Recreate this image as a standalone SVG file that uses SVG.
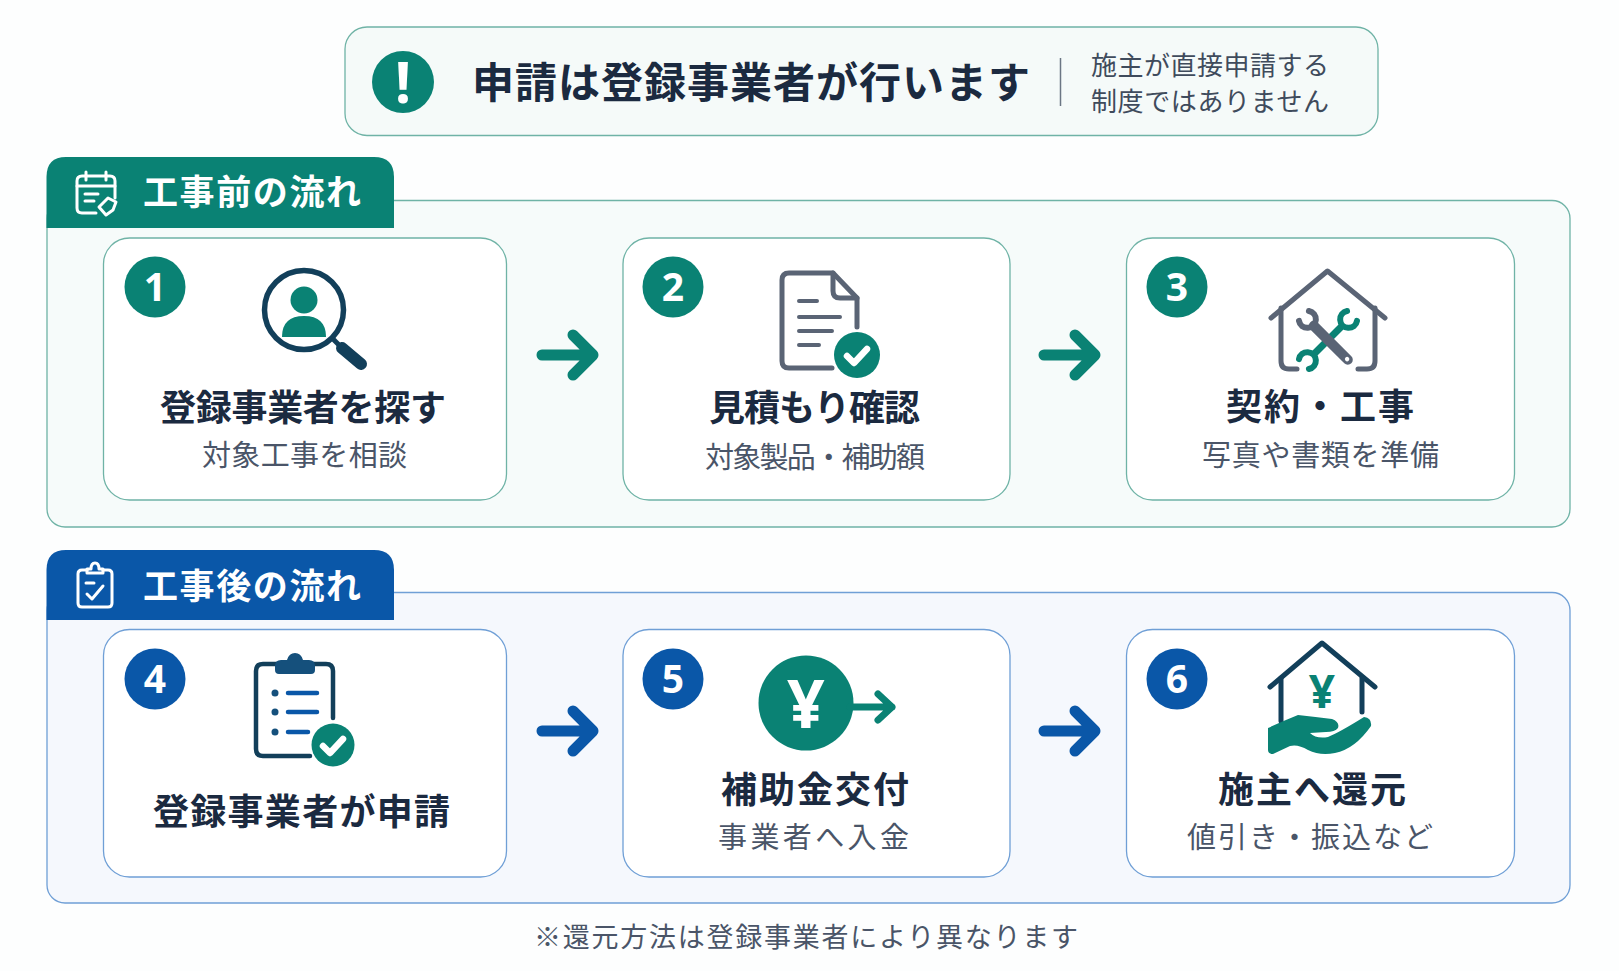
<svg xmlns="http://www.w3.org/2000/svg" width="1619" height="971" viewBox="0 0 1619 971">
<style>
text{font-family:"Noto Sans CJK JP","Noto Sans",sans-serif}
.t{font-size:36px;font-weight:700;fill:#1b2a40}
.s{font-size:29px;font-weight:400;fill:#4a5568}
.h{font-size:35px;font-weight:700;fill:#fff}
.n{font-size:39px;font-weight:700;fill:#fff;text-anchor:middle;font-family:"Noto Sans",sans-serif}
.ct{fill:#fff;stroke:#6fb3a6;stroke-width:1.3}
.cb{fill:#fff;stroke:#6f9fd6;stroke-width:1.3}
.ar{fill:none;stroke-width:11;stroke-linecap:round;stroke-linejoin:round}
.ln{fill:none;stroke-linecap:round;stroke-linejoin:round}
</style>
<defs>
<path id="check" d="M-10 1L-3 8L10 -6" fill="none" stroke="#fff" stroke-width="6.5" stroke-linecap="round" stroke-linejoin="round"/>
<path id="chev" d="M0 0H51M31 -20L51 0L31 20"/>
</defs>
<rect width="1619" height="971" fill="#fdfefe"/>

<g id="banner">
<rect x="345" y="27" width="1033" height="108.500" rx="22" fill="#f5faf9" stroke="#6fb3a6" stroke-width="1.3"/>
<circle cx="403" cy="82" r="31" fill="#0a8274"/>
<text x="403" y="103" font-size="57" font-weight="700" fill="#fff" text-anchor="middle" style="font-family:'Noto Sans',sans-serif">!</text>
<text x="472" y="98" font-size="42" font-weight="700" fill="#1b2a40" textLength="558">申請は登録事業者が行います</text>
<line x1="1060.500" y1="58" x2="1060.500" y2="106" stroke="#6b7684" stroke-width="1.5"/>
<text x="1091" y="75" font-size="26" fill="#3f4b5c" textLength="238">施主が直接申請する</text>
<text x="1091" y="111" font-size="26" fill="#3f4b5c" textLength="238">制度ではありません</text>
</g>

<g id="section-before">
<rect x="47" y="200.500" width="1523" height="326.500" rx="18" fill="#f6fbfa" stroke="#6fb3a6" stroke-width="1.3"/>
<path d="M46.500 228V177Q46.500 157 66 157H374Q394 157 394 177V228Z" fill="#0a8274"/>
<g fill="none" stroke="#fff" stroke-width="3" stroke-linecap="round" stroke-linejoin="round">
<path d="M96 213H82Q77 213 77 208V181Q77 176 82 176H110Q115 176 115 181V198"/>
<path d="M86 172V180M106 172V180M77 186H115M85 194H98M85 201H94"/>
<path d="M99 207L108 198L116 202L113 210L106 215Z"/>
</g>
<text class="h" x="143" y="205" textLength="218">工事前の流れ</text>
</g>

<g id="section-after">
<rect x="47" y="592.500" width="1523" height="310.500" rx="18" fill="#f5f8fd" stroke="#6f9fd6" stroke-width="1.3"/>
<path d="M46.500 620V570Q46.500 550 66 550H374Q394 550 394 570V620Z" fill="#0a57a8"/>
<g fill="none" stroke="#fff" stroke-width="3" stroke-linecap="round" stroke-linejoin="round">
<path d="M87 570H82Q78 570 78 574V603Q78 607 82 607H108Q112 607 112 603V574Q112 570 108 570H103"/>
<path d="M87 573V569H91Q91 563 95 563Q99 563 99 569H103V573Z"/>
<path d="M86 583H94M87 594L92 599L103 586"/>
</g>
<text class="h" x="143" y="599" textLength="218">工事後の流れ</text>
</g>

<g id="connectors">
<use href="#chev" class="ar" stroke="#0a8274" x="542" y="355"/>
<use href="#chev" class="ar" stroke="#0a8274" x="1044" y="355"/>
<use href="#chev" class="ar" stroke="#0a57a8" x="542" y="731"/>
<use href="#chev" class="ar" stroke="#0a57a8" x="1044" y="731"/>
</g>

<g id="node-1">
<rect class="ct" x="103.500" y="238" width="403" height="262" rx="26"/>
<circle cx="155" cy="287" r="30.500" fill="#0a8274"/><text class="n" x="155" y="301">1</text>
<circle cx="304" cy="310" r="39.500" fill="#fff" stroke="#123f5a" stroke-width="5.500"/>
<circle cx="304" cy="300" r="13.500" fill="#0a8274"/>
<path d="M282 337Q282 316 304 316Q326 316 326 337Z" fill="#0a8274"/>
<path class="ln" d="M334 340L338 344" stroke="#123f5a" stroke-width="5"/>
<path class="ln" d="M342 348L361 364" stroke="#123f5a" stroke-width="12"/>
<text class="t" x="160" y="421" textLength="286">登録事業者を探す</text>
<text class="s" x="202" y="466" textLength="205">対象工事を相談</text>
</g>

<g id="node-2">
<rect class="ct" x="623" y="238" width="387" height="262" rx="26"/>
<circle cx="673" cy="287" r="30.500" fill="#0a8274"/><text class="n" x="673" y="301">2</text>
<g class="ln" stroke="#5a6475" stroke-width="5">
<path d="M832 368H789Q782 368 782 361V280Q782 273 789 273H833L857 298V327"/>
<path d="M833 273V291Q833 298 840 298H857"/>
</g>
<g class="ln" stroke="#5a6475" stroke-width="4">
<path d="M799 301H817M799 317H840M799 331H832M799 345H819"/>
</g>
<circle cx="857" cy="355" r="23" fill="#0a8274"/><use href="#check" x="857" y="355"/>
<text class="t" x="709" y="421" textLength="211">見積もり確認</text>
<text class="s" x="705" y="467.500" textLength="220">対象製品・補助額</text>
</g>

<g id="node-3">
<rect class="ct" x="1126.500" y="238" width="388" height="262" rx="26"/>
<circle cx="1177" cy="287" r="30.500" fill="#0a8274"/><text class="n" x="1177" y="301">3</text>
<g class="ln" stroke="#5a6475" stroke-width="5">
<path d="M1271 318L1327.500 271L1385 318"/>
<path d="M1281 308V361Q1281 369 1289 369H1297M1375 308V361Q1375 369 1367 369H1358"/>
</g>
<g transform="translate(1328 340) rotate(45)" fill="none" stroke="#0a8274" stroke-linecap="round">
<path d="M0 -18V18" stroke-width="7"/>
<path d="M-7 -34A8.500 8.500 0 1 0 7 -34M-7 34A8.500 8.500 0 1 1 7 34" stroke-width="6"/>
</g>
<g transform="translate(1328 340) rotate(-45)" fill="none" stroke="#5a6475" stroke-linecap="round">
<path d="M0 -20V28" stroke-width="10"/>
<path d="M-7 -34A8.500 8.500 0 1 0 7 -34" stroke-width="6"/>
<circle cx="0" cy="27" r="2.200" fill="#fff" stroke="none"/>
</g>
<text class="t" x="1226" y="420" textLength="188">契約・工事</text>
<text class="s" x="1202" y="466" textLength="237">写真や書類を準備</text>
</g>

<g id="node-4">
<rect class="cb" x="103.500" y="629.500" width="403" height="247.500" rx="26"/>
<circle cx="155" cy="679" r="30.500" fill="#0a57a8"/><text class="n" x="155" y="693">4</text>
<path class="ln" d="M310 756H263Q256 756 256 749V671Q256 664 263 664H326Q333 664 333 671V718" stroke="#123f5a" stroke-width="4.500"/>
<path d="M275 670V666Q275 660 281 660H287Q289 653 295 653Q301 653 303 660H309Q315 660 315 666V670Q315 674 311 674H279Q275 674 275 670Z" fill="#15507c"/>
<circle cx="275" cy="693" r="3.500" fill="#15507c"/><circle cx="275" cy="712" r="3.500" fill="#15507c"/><circle cx="275" cy="732" r="3.500" fill="#15507c"/>
<path class="ln" d="M288 693H317M288 712H317M288 732H308" stroke="#0a57a8" stroke-width="4.500"/>
<circle cx="333" cy="745" r="21.500" fill="#0a8274"/><use href="#check" x="333" y="745"/>
<text class="t" x="153" y="825" textLength="297">登録事業者が申請</text>
</g>

<g id="node-5">
<rect class="cb" x="623" y="629.500" width="387" height="247.500" rx="26"/>
<circle cx="673" cy="679" r="30.500" fill="#0a57a8"/><text class="n" x="673" y="693">5</text>
<circle cx="806" cy="703" r="47.500" fill="#0a8274"/>
<text x="806" y="728" font-size="66" font-weight="700" fill="#fff" text-anchor="middle" style="font-family:'Noto Sans',sans-serif">¥</text>
<path class="ln" d="M850 707H892M878 694L892 707L878 720" stroke="#0a8274" stroke-width="7"/>
<text class="t" x="721" y="803" textLength="188">補助金交付</text>
<text class="s" x="718" y="847.500" textLength="191">事業者へ入金</text>
</g>

<g id="node-6">
<rect class="cb" x="1126.500" y="629.500" width="388" height="247.500" rx="26"/>
<circle cx="1177" cy="679" r="30.500" fill="#0a57a8"/><text class="n" x="1177" y="693">6</text>
<g class="ln" stroke="#123f5a" stroke-width="5">
<path d="M1270 687L1322 643L1375 687"/>
<path d="M1281 678V721M1362 678V712"/>
</g>
<text x="1322" y="708" font-size="46" font-weight="700" fill="#0a8274" text-anchor="middle" style="font-family:'Noto Sans',sans-serif">¥</text>
<path d="M1268 728Q1283 721 1298 715Q1316 717 1332 719Q1340 722 1338 728Q1335 732 1326 732L1310 733Q1316 739 1328 737Q1340 732 1364 717Q1372 718 1371 726Q1355 749 1335 753Q1320 756 1308 750Q1298 744 1290 746L1273 754Q1268 754 1268 750Z" fill="#0a8274"/>
<text class="t" x="1218" y="803" textLength="188">施主へ還元</text>
<text class="s" x="1187" y="847.500" textLength="246">値引き・振込など</text>
</g>

<text id="footnote" x="534" y="947" font-size="27" fill="#4a5568" textLength="544">※還元方法は登録事業者により異なります</text>
</svg>
